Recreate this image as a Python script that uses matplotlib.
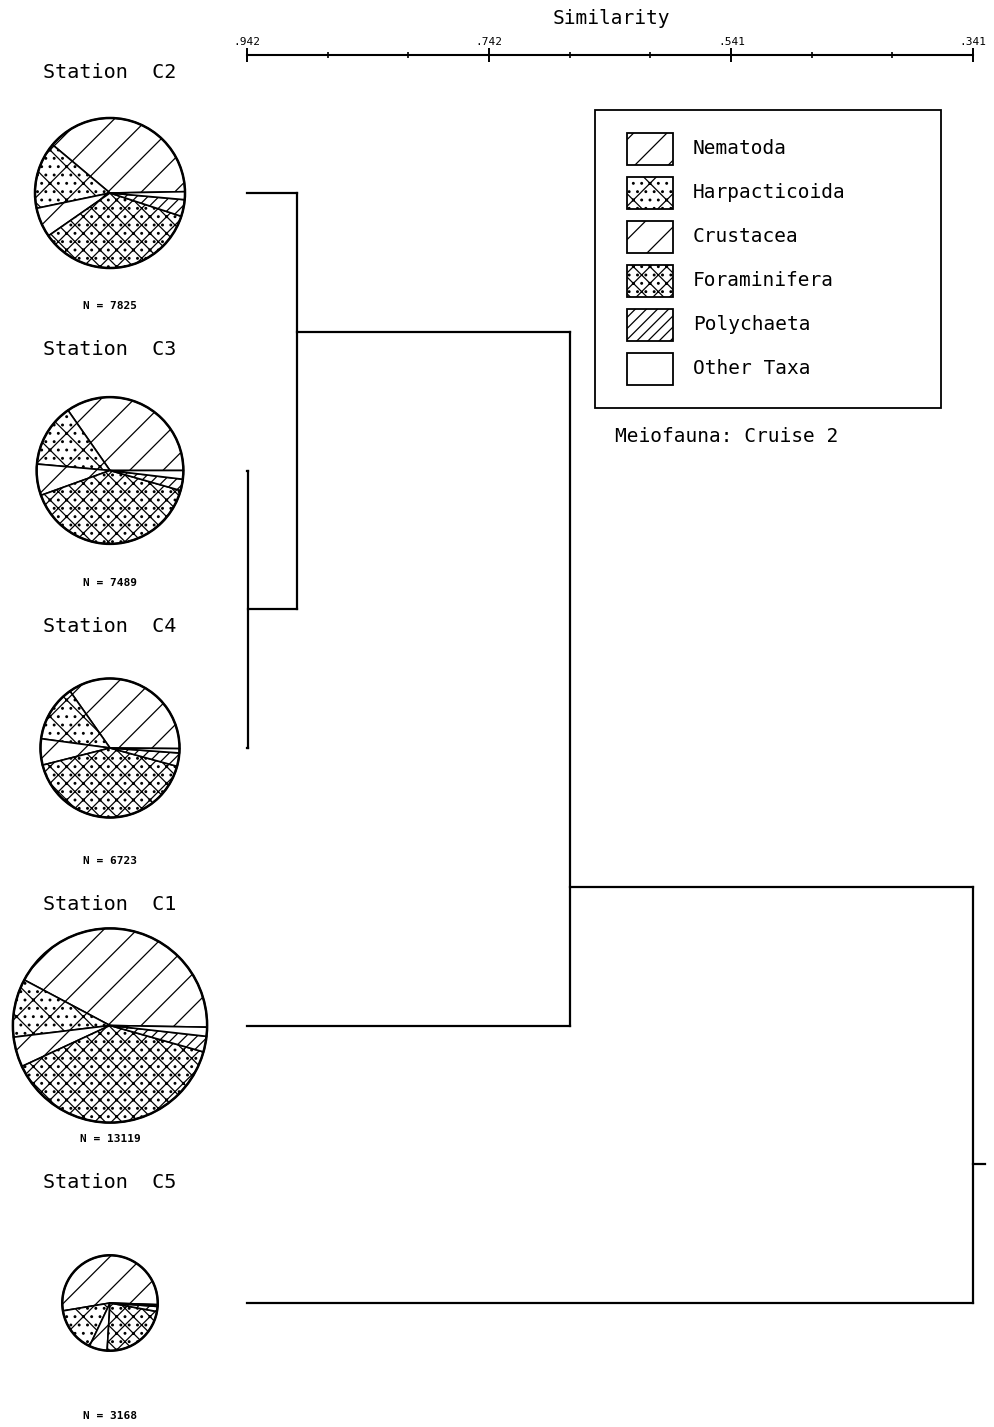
import numpy as np
import matplotlib
matplotlib.use('Agg')
import matplotlib.pyplot as plt
from matplotlib.patches import Wedge, Circle, Rectangle

plt.rcParams['font.family'] = ['DejaVu Sans Mono']
plt.rcParams['hatch.linewidth'] = 0.9

# leaf order of the dendrogram, top to bottom
stations = ['C2', 'C3', 'C4', 'C1', 'C5']
counts = [7825, 7489, 6723, 13119, 3168]

taxa = ['Nematoda', 'Harpacticoida', 'Crustacea', 'Foraminifera',
        'Polychaeta', 'Other Taxa']
hatches = ['/', 'x..', '/', 'xx..', '///', '']

# percent of each taxon, same order as taxa
pct_c2 = [38.6, 14.4, 6.4, 35.3, 3.6, 1.7]
pct_c3 = [34.7, 13.9, 6.9, 40.1, 2.5, 1.9]
pct_c4 = [34.9, 13.1, 6.1, 41.8, 3.1, 1.0]
pct_c1 = [42.5, 9.7, 5.0, 38.7, 2.6, 1.5]
pct_c5 = [53.2, 15.3, 6.1, 23.1, 1.7, 0.6]
pcts = [pct_c2, pct_c3, pct_c4, pct_c1, pct_c5]
start_angles = [1, 0, -0.5, -1, -2]

# cluster joins: (left leaves, right leaves, similarity)
merges = [((1,), (2,), 0.941),
          ((0,), (1, 2), 0.901),
          ((0, 1, 2), (3,), 0.675),
          ((0, 1, 2, 3), (4,), 0.341)]
sim_ticks = [0.942, 0.742, 0.541, 0.341]

W, H = 995, 1427
fig = plt.figure(figsize=(W / 100, H / 100), dpi=100)

# page axes in pixel units (pies, labels, legend)
pax = fig.add_axes([0, 0, 1, 1])
pax.set_xlim(0, W)
pax.set_ylim(H, 0)
pax.axis('off')

row_y = [193 + 277.5 * i for i in range(len(stations))]
pie_x = 110
r_scale = 75 / np.sqrt(7825)

for i, st in enumerate(stations):
    cy = row_y[i]
    r = r_scale * np.sqrt(counts[i])
    a = start_angles[i] + np.concatenate([[0], np.cumsum(pcts[i])]) * 3.6
    for k in range(len(taxa)):
        # y axis is inverted, so flip the angles
        w = Wedge((pie_x, cy), r, -a[k + 1], -a[k], facecolor='white',
                  edgecolor='black', lw=1.2, hatch=hatches[k])
        pax.add_patch(w)
    pax.add_patch(Circle((pie_x, cy), r, fill=False, edgecolor='black', lw=1.8))
    pax.text(pie_x, cy - 121, 'Station  ' + st, ha='center', va='center',
             fontsize=14.5)
    pax.text(pie_x, cy + 113, 'N = %d' % counts[i], ha='center', va='center',
             fontsize=8, fontweight='bold')

# legend
pax.add_patch(Rectangle((595, 110), 346, 298, fill=False, edgecolor='black', lw=1.3))
for k, name in enumerate(taxa):
    y0 = 133 + 44 * k
    pax.add_patch(Rectangle((627, y0), 46, 32, facecolor='white',
                            edgecolor='black', lw=1.3, hatch=hatches[k]))
    pax.text(693, y0 + 16, name, ha='left', va='center', fontsize=14)
pax.text(615, 436, 'Meiofauna: Cruise 2', ha='left', va='center', fontsize=14)

pax.text(611, 19, 'Similarity', ha='center', va='center', fontsize=14)

# dendrogram axes, x in similarity units
dax = fig.add_axes([247 / W, 0, (973 - 247) / W, 1])
dax.set_xlim(sim_ticks[0], sim_ticks[-1])
dax.set_ylim(H, 0)
dax.patch.set_visible(False)
for s in ['left', 'right', 'bottom']:
    dax.spines[s].set_visible(False)
dax.spines['top'].set_position(('data', 55))
dax.spines['top'].set_linewidth(1.5)
dax.xaxis.tick_top()
dax.set_yticks([])
dax.set_xticks(sim_ticks)
dax.set_xticklabels([('%.3f' % t).lstrip('0') for t in sim_ticks], fontsize=8)
minor = []
for t0, t1 in zip(sim_ticks[:-1], sim_ticks[1:]):
    minor += list(np.linspace(t0, t1, 4)[1:-1])
dax.set_xticks(minor, minor=True)
dax.tick_params(axis='x', which='major', direction='inout', length=10,
                width=1.4, pad=1)
dax.tick_params(axis='x', which='minor', direction='inout', length=4, width=1.2)

leaf_sim = sim_ticks[0]
nodes = {(i,): (row_y[i], leaf_sim) for i in range(len(stations))}
lw = 1.6
for left, right, s in merges:
    ly, ls = nodes[left]
    ry, rs = nodes[right]
    dax.plot([ls, s], [ly, ly], color='black', lw=lw, clip_on=False)
    dax.plot([rs, s], [ry, ry], color='black', lw=lw, clip_on=False)
    dax.plot([s, s], [ly, ry], color='black', lw=lw, clip_on=False)
    ny = (row_y[left[-1]] + row_y[right[0]]) / 2
    nodes[left + right] = (ny, s)

root_y, root_s = nodes[tuple(range(len(stations)))]
dax.plot([root_s, root_s - 0.01], [root_y, root_y], color='black', lw=lw,
         clip_on=False)

fig.savefig('out.png', dpi=100)
